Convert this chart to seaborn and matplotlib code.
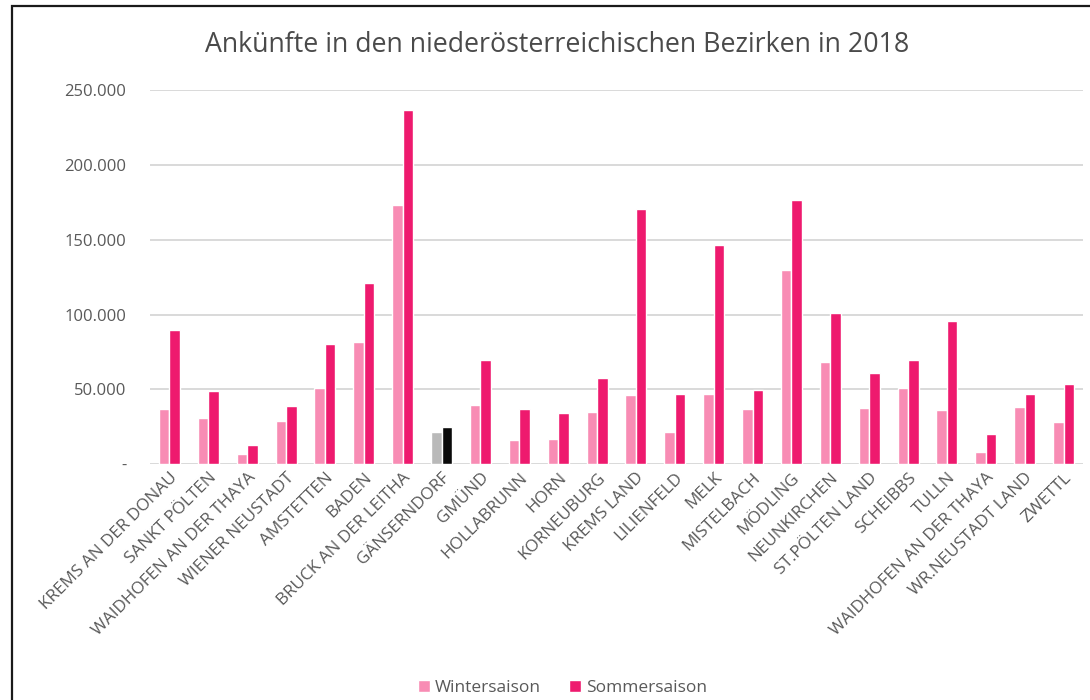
import matplotlib
matplotlib.use("Agg")
import matplotlib.pyplot as plt
from matplotlib.patches import Patch, Rectangle
import pandas as pd
import seaborn as sns

# Ankünfte je Bezirk, Winter- und Sommersaison 2018
bezirke = [
    "KREMS AN DER DONAU", "SANKT PÖLTEN", "WAIDHOFEN AN DER THAYA",
    "WIENER NEUSTADT", "AMSTETTEN", "BADEN", "BRUCK AN DER LEITHA",
    "GÄNSERNDORF", "GMÜND", "HOLLABRUNN", "HORN", "KORNEUBURG",
    "KREMS LAND", "LILIENFELD", "MELK", "MISTELBACH", "MÖDLING",
    "NEUNKIRCHEN", "ST.PÖLTEN LAND", "SCHEIBBS", "TULLN",
    "WAIDHOFEN AN DER THAYA ", "WR.NEUSTADT LAND", "ZWETTL",
]
wintersaison = [
    36700, 31000, 6700, 28700, 50700, 81500, 173000,
    21700, 39300, 16000, 16700, 34700,
    46000, 21300, 46700, 36700, 130000,
    68000, 37300, 50700, 36000,
    8000, 38000, 28000,
]
sommersaison = [
    89500, 49000, 12700, 38700, 80000, 121000, 236500,
    24700, 69500, 36700, 34000, 57300,
    170800, 46700, 146700, 49300, 176700,
    101200, 60700, 69300, 96000,
    20000, 46700, 53300,
]
saisons = ["Wintersaison", "Sommersaison"]
y_ticks = [0, 50000, 100000, 150000, 200000, 250000]
y_labels = ["-", "50.000", "100.000", "150.000", "200.000", "250.000"]

df = pd.DataFrame({
    "Bezirk": bezirke * 2,
    "Saison": [saisons[0]] * len(bezirke) + [saisons[1]] * len(bezirke),
    "Ankünfte": wintersaison + sommersaison,
})

farbe_winter = "#F88CB4"
farbe_sommer = "#EE1A6E"
grau_text = "#595959"

sns.set_theme(style="white")
plt.rcParams["font.family"] = ["Open Sans", "DejaVu Sans"]

fig = plt.figure(figsize=(10.9, 7.0), dpi=100)
ax = fig.add_axes([0.1376, 0.337, 0.856, 0.534])

sns.barplot(
    data=df, x="Bezirk", y="Ankünfte", hue="Saison",
    palette=[farbe_winter, farbe_sommer], width=0.54,
    saturation=1, gap=0, ax=ax, legend=False,
)

# Gänserndorf hervorgehoben in Grau/Schwarz
idx = bezirke.index("GÄNSERNDORF")
ax.containers[0][idx].set_facecolor("#B9B9B9")
ax.containers[1][idx].set_facecolor("#0A0A0A")

ax.set_ylim(0, 250000)
ax.set_xlim(-0.5, len(bezirke) - 0.5)
ax.set_yticks(y_ticks)
ax.set_yticklabels(y_labels, color=grau_text, fontsize=12)
ax.yaxis.grid(True, color="#D9D9D9", linewidth=1.4)
ax.set_axisbelow(True)
for s in ax.spines.values():
    s.set_visible(False)
ax.tick_params(axis="both", length=0)
ax.tick_params(axis="y", pad=17)
ax.tick_params(axis="x", pad=4)
ax.set_xlabel("")
ax.set_ylabel("")
ax.set_xticks(range(len(bezirke)))
ax.set_xticklabels(
    [b.strip() for b in bezirke], rotation=45, ha="right",
    rotation_mode="anchor", color=grau_text, fontsize=12.3,
)

fig.text(0.511, 0.935, "Ankünfte in den niederösterreichischen Bezirken in 2018",
         ha="center", va="center", fontsize=19.3, color="#4A4A4A")

handles = [Patch(facecolor=farbe_winter, label=saisons[0]),
           Patch(facecolor=farbe_sommer, label=saisons[1])]
fig.legend(handles=handles, loc="center", bbox_to_anchor=(0.516, 0.017),
           ncol=2, frameon=False, fontsize=12.5, handlelength=0.7,
           handleheight=0.7, handletextpad=0.3, columnspacing=1.6,
           labelcolor=grau_text)

# Rahmen um die Grafik (rechts und unten außerhalb des Bildes)
fig.add_artist(Rectangle((0.011, -0.05), 1.05, 1.041, transform=fig.transFigure,
                         fill=False, edgecolor="#1A1A1A", linewidth=1.6))

fig.savefig("out.png", dpi=100, facecolor="white")
